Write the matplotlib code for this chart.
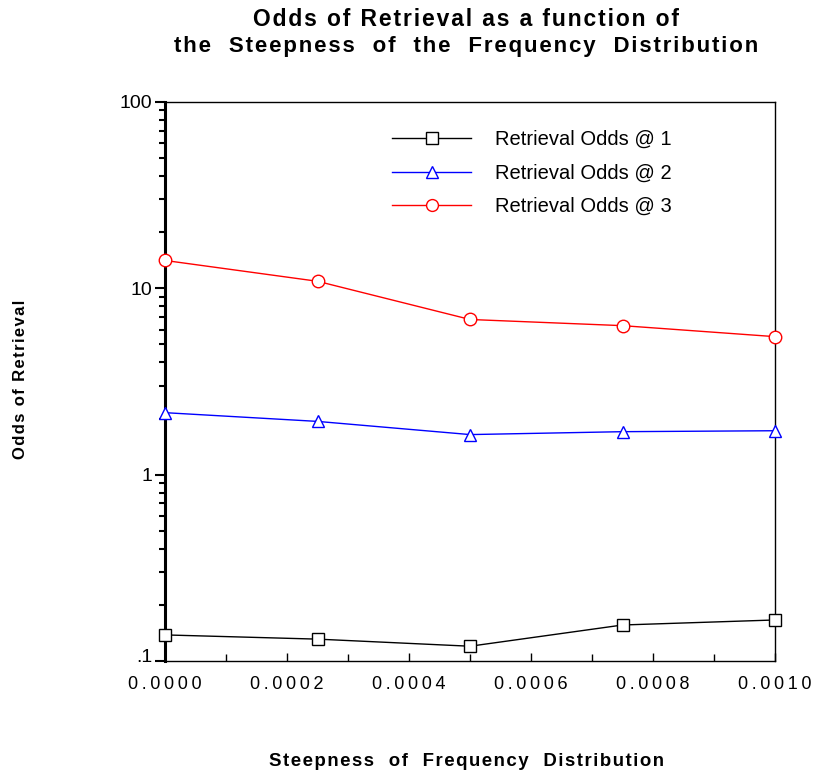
import matplotlib.pyplot as plt
from matplotlib.ticker import FixedLocator, FuncFormatter, LogLocator, NullFormatter
from matplotlib.transforms import ScaledTranslation

plt.rcParams['font.family'] = ['Liberation Sans', 'DejaVu Sans']

steepness = [0.0, 0.00025, 0.0005, 0.00075, 0.001]
odds_1 = [0.138, 0.131, 0.120, 0.156, 0.166]
odds_2 = [2.15, 1.93, 1.64, 1.70, 1.72]
odds_3 = [14.1, 10.9, 6.8, 6.3, 5.5]

series = [
    ('Retrieval Odds @ 1', odds_1, 'black', 's'),
    ('Retrieval Odds @ 2', odds_2, 'blue', '^'),
    ('Retrieval Odds @ 3', odds_3, 'red', 'o'),
]


def spread(s, wide=True, gap='\u200a'):
    # old-style letter spacing
    if wide:
        s = s.replace(' ', '  ')
    return gap.join(s)


def xlab(x, pos):
    return '\u2009'.join(f'{x:.4f}')


def ylab(y, pos):
    return {0.1: '.1', 1: '1', 10: '10', 100: '100'}.get(round(y, 3), '')


fig = plt.figure(figsize=(8.15, 7.72), dpi=100)
ax = fig.add_axes([0.2025, 0.1438, 0.7485, 0.7242])

for name, vals, c, m in series:
    ax.plot(steepness, vals, color=c, marker=m, markersize=9, markerfacecolor='white',
            markeredgecolor=c, linewidth=1, label=name, clip_on=False, zorder=3)

ax.set_yscale('log')
ax.set_ylim(0.1, 100)
ax.set_xlim(0, 0.001)
ax.yaxis.set_major_locator(FixedLocator([0.1, 1, 10, 100]))
ax.yaxis.set_major_formatter(FuncFormatter(ylab))
ax.yaxis.set_minor_locator(LogLocator(subs=range(2, 10)))
ax.yaxis.set_minor_formatter(NullFormatter())
ax.xaxis.set_major_locator(FixedLocator([0, 0.0002, 0.0004, 0.0006, 0.0008, 0.001]))
ax.xaxis.set_minor_locator(FixedLocator([0.0001, 0.0003, 0.0005, 0.0007, 0.0009]))
ax.xaxis.set_major_formatter(FuncFormatter(xlab))

ax.tick_params(axis='x', direction='in', length=6, width=1, labelsize=13, pad=11)
ax.tick_params(axis='x', which='minor', direction='in', length=5, width=1)
ax.tick_params(axis='y', direction='out', length=7, width=1.5, labelsize=14, pad=2)
ax.tick_params(axis='y', which='minor', direction='out', length=4, width=1.5)
ax.spines['left'].set_linewidth(2.2)
for s in ['top', 'right', 'bottom']:
    ax.spines[s].set_linewidth(1)

fig.text(0.572, 0.975, spread('Odds of Retrieval as a function of', wide=False),
         ha='center', va='center', fontsize=16.5, fontweight='bold')
fig.text(0.572, 0.940, spread('the Steepness of the Frequency Distribution'), ha='center',
         va='center', fontsize=16, fontweight='bold')
fig.text(0.572, 0.003, spread('Steepness of Frequency Distribution'), ha='center',
         va='bottom', fontsize=13.4, fontweight='bold')
fig.text(0.025, 0.508, spread('Odds of Retrieval', wide=False), rotation=90, ha='center',
         va='center', fontsize=12, fontweight='bold')

ax.legend(loc='upper left', bbox_to_anchor=(0.343, 0.982), frameon=False, fontsize=14.5,
          handlelength=3.9, handletextpad=1.2, labelspacing=0.72, markerscale=0.95)

# the ".1" label sits a bit above its tick in the original
lab = ax.yaxis.get_major_ticks()[0].label1
lab.set_transform(lab.get_transform() + ScaledTranslation(0, 4 / 72, fig.dpi_scale_trans))

fig.savefig('out.png', dpi=100)
